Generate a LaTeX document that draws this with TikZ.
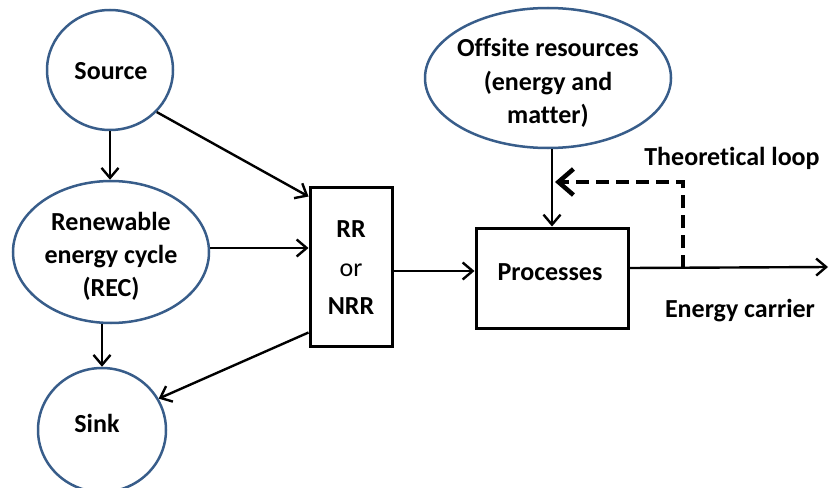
\documentclass[tikz,border=0pt]{standalone}
\usepackage{fontspec}
\setmainfont{Carlito}[Ligatures=NoCommon]
\usetikzlibrary{shapes.geometric,arrows.meta,calc}
\definecolor{ellblue}{RGB}{56,93,138}
\begin{document}
\begin{tikzpicture}[x=1pt,y=-1pt,
  every node/.style={font=\fontsize{26}{33}\selectfont\bfseries},
  ell/.style={ellipse,draw=ellblue,line width=2.5pt,inner sep=0pt},
  boxnode/.style={rectangle,draw=black,line width=3pt,inner sep=0pt},
  txt/.style={inner sep=0pt,align=center},
  conn/.style={line width=2.4pt,-{Straight Barb[length=10pt,width=17pt]}},
  loop/.style={line width=4.5pt,dash pattern=on 13pt off 7pt,-{Straight Barb[length=15pt,width=26pt]}}]
\useasboundingbox (0,0) rectangle (829,487);
\node[ell,minimum width=126pt,minimum height=120pt] (src) at (110,70) {};
\node[ell,minimum width=196pt,minimum height=142pt] (rec) at (111,252) {};
\node[ell,minimum width=128pt,minimum height=124pt] (sink) at (102,430) {};
\node[ell,minimum width=246pt,minimum height=140pt] (off) at (548,78) {};
\node[boxnode,minimum width=82pt,minimum height=159pt] (rr) at (351,266.5) {};
\node[boxnode,minimum width=152pt,minimum height=100pt] (proc) at (552,278) {};
\node[txt] (srct) at (111,71) {Source};
\node[txt] (rect) at (111,256) {Renewable\\energy cycle\\(REC)};
\node[txt] (sinkt) at (97,423) {Sink};
\node[txt,font=\fontsize{26}{33.5}\selectfont\bfseries] (offt) at (548,83) {Offsite resources\\(energy and\\matter)};
\node[txt,font=\fontsize{26}{38.5}\selectfont\bfseries] (rrt) at (351,268) {RR\\{\mdseries or}\\NRR};
\node[txt] (proct) at (550,272) {Processes};
\node[txt] (tl) at (732,158) {Theoretical loop};
\node[txt] (ec) at (740,311) {Energy carrier};
\coordinate (out) at (828,267);
\coordinate (j) at (683,268);
\coordinate (tip) at (555,182);
\draw[conn] (src.south) -- (src.south |- rec.north);
\draw[conn] (src.-42) -- ($(rr.north west)+(0,11)$);
\draw[conn] (rec.east |- 0,248) -- (rr.west |- 0,248);
\draw[conn] (sink.north |- rec.south) -- (sink.north);
\draw[conn] ($(rr.south west)+(0,-15)$) -- (sink.29);
\draw[conn] ([yshift=-4.5pt]rr.east) -- ([yshift=7pt]proc.west);
\draw[conn] (proc.north |- off.south) -- (proc.north);
\draw[conn] ([yshift=10pt]proc.east) -- (out);
\draw[loop] (j) |- (tip);
\end{tikzpicture}
\end{document}
